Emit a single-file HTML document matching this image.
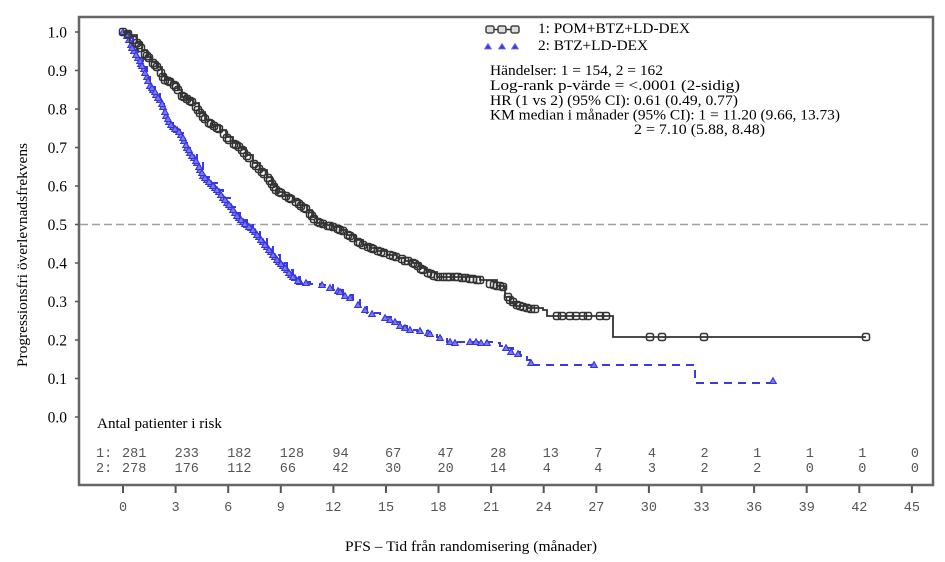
<!DOCTYPE html>
<html>
<head>
<meta charset="utf-8">
<style>
html,body{margin:0;padding:0;background:#fff;}
svg{display:block;}
.serif{font-family:"Liberation Serif","DejaVu Serif",serif;fill:#000;}
.mono{font-family:"Liberation Mono","DejaVu Sans Mono",monospace;fill:#555;font-size:13.5px;}
</style>
</head>
<body>
<svg width="945" height="562" viewBox="0 0 945 562" xmlns="http://www.w3.org/2000/svg">
<defs>
  <marker id="sq" markerWidth="9" markerHeight="9" refX="4.5" refY="4.5" markerUnits="userSpaceOnUse">
    <rect x="1" y="1" width="7" height="7" rx="1.8" fill="none" stroke="#333" stroke-width="1.5"/>
  </marker>
  <marker id="tri" markerWidth="9" markerHeight="9" refX="4.5" refY="4.5" markerUnits="userSpaceOnUse">
    <path d="M4.5,1.2 L7.8,7 L1.2,7 Z" fill="#7a7aee" stroke="#3535e0" stroke-width="1.1"/>
  </marker>
</defs>
<rect width="945" height="562" fill="#fff"/>

<!-- frame -->
<rect x="79" y="17" width="854" height="468" fill="none" stroke="#666" stroke-width="2.5"/>

<!-- reference line at 0.5 -->
<line x1="80" y1="224.5" x2="932" y2="224.5" stroke="#a0a0a0" stroke-width="1.5" stroke-dasharray="8 4"/>

<!-- y ticks -->
<g stroke="#555" stroke-width="1.5">
  <line x1="75" y1="32" x2="79" y2="32"/>
  <line x1="75" y1="70.5" x2="79" y2="70.5"/>
  <line x1="75" y1="109" x2="79" y2="109"/>
  <line x1="75" y1="147.5" x2="79" y2="147.5"/>
  <line x1="75" y1="186" x2="79" y2="186"/>
  <line x1="75" y1="224.5" x2="79" y2="224.5"/>
  <line x1="75" y1="263" x2="79" y2="263"/>
  <line x1="75" y1="301.5" x2="79" y2="301.5"/>
  <line x1="75" y1="340" x2="79" y2="340"/>
  <line x1="75" y1="378.5" x2="79" y2="378.5"/>
  <line x1="75" y1="417" x2="79" y2="417"/>
</g>
<g class="serif" font-size="15.5" text-anchor="end">
  <text x="67" y="37.5">1.0</text>
  <text x="67" y="76">0.9</text>
  <text x="67" y="114.5">0.8</text>
  <text x="67" y="153">0.7</text>
  <text x="67" y="191.5">0.6</text>
  <text x="67" y="230">0.5</text>
  <text x="67" y="268.5">0.4</text>
  <text x="67" y="307">0.3</text>
  <text x="67" y="345.5">0.2</text>
  <text x="67" y="384">0.1</text>
  <text x="67" y="422.5">0.0</text>
</g>

<!-- y label -->
<text class="serif" font-size="15" text-anchor="middle" transform="translate(27,255) rotate(-90)" textLength="224" lengthAdjust="spacingAndGlyphs">Progressionsfri överlevnadsfrekvens</text>

<!-- x ticks -->
<g stroke="#555" stroke-width="2">
  <line x1="123" y1="486" x2="123" y2="493"/>
  <line x1="175.6" y1="486" x2="175.6" y2="493"/>
  <line x1="228.2" y1="486" x2="228.2" y2="493"/>
  <line x1="280.8" y1="486" x2="280.8" y2="493"/>
  <line x1="333.4" y1="486" x2="333.4" y2="493"/>
  <line x1="386" y1="486" x2="386" y2="493"/>
  <line x1="438.5" y1="486" x2="438.5" y2="493"/>
  <line x1="491.1" y1="486" x2="491.1" y2="493"/>
  <line x1="543.7" y1="486" x2="543.7" y2="493"/>
  <line x1="596.3" y1="486" x2="596.3" y2="493"/>
  <line x1="648.9" y1="486" x2="648.9" y2="493"/>
  <line x1="701.5" y1="486" x2="701.5" y2="493"/>
  <line x1="754.1" y1="486" x2="754.1" y2="493"/>
  <line x1="806.7" y1="486" x2="806.7" y2="493"/>
  <line x1="859.3" y1="486" x2="859.3" y2="493"/>
  <line x1="911.9" y1="486" x2="911.9" y2="493"/>
</g>
<g class="mono" text-anchor="middle">
  <text x="123" y="511">0</text>
  <text x="175.6" y="511">3</text>
  <text x="228.2" y="511">6</text>
  <text x="280.8" y="511">9</text>
  <text x="333.4" y="511">12</text>
  <text x="386" y="511">15</text>
  <text x="438.5" y="511">18</text>
  <text x="491.1" y="511">21</text>
  <text x="543.7" y="511">24</text>
  <text x="596.3" y="511">27</text>
  <text x="648.9" y="511">30</text>
  <text x="701.5" y="511">33</text>
  <text x="754.1" y="511">36</text>
  <text x="806.7" y="511">39</text>
  <text x="859.3" y="511">42</text>
  <text x="911.9" y="511">45</text>
</g>

<!-- x label -->
<text class="serif" font-size="15" x="345" y="551" textLength="252" lengthAdjust="spacingAndGlyphs">PFS – Tid från randomisering (månader)</text>

<!-- risk table -->
<text class="serif" font-size="15" x="97" y="428" textLength="125" lengthAdjust="spacingAndGlyphs">Antal patienter i risk</text>
<g class="mono">
  <text x="96" y="457">1:</text>
  <text x="96" y="472">2:</text>
  <text x="122" y="457">281</text><text x="122" y="472">278</text>
  <text x="174.6" y="457">233</text><text x="174.6" y="472">176</text>
  <text x="227.2" y="457">182</text><text x="227.2" y="472">112</text>
  <text x="279.8" y="457">128</text><text x="279.8" y="472">66</text>
  <text x="332.4" y="457">94</text><text x="332.4" y="472">42</text>
  <text x="385" y="457">67</text><text x="385" y="472">30</text>
  <text x="437.5" y="457">47</text><text x="437.5" y="472">20</text>
  <text x="490.1" y="457">28</text><text x="490.1" y="472">14</text>
  <text x="542.7" y="457">13</text><text x="542.7" y="472">4</text>
  <text x="594.3" y="457">7</text><text x="594.3" y="472">4</text>
  <text x="647.9" y="457">4</text><text x="647.9" y="472">3</text>
  <text x="700.5" y="457">2</text><text x="700.5" y="472">2</text>
  <text x="753.1" y="457">1</text><text x="753.1" y="472">2</text>
  <text x="805.7" y="457">1</text><text x="805.7" y="472">0</text>
  <text x="858.3" y="457">1</text><text x="858.3" y="472">0</text>
  <text x="910.9" y="457">0</text><text x="910.9" y="472">0</text>
</g>

<!-- series 2 (blue, dashed) -->
<path d="M123,32 H128 V38 H133 V50 H138 V58 H143 V67 H147 V77 H150 V87 H155 V93 H160 V100 H164 V110 H167 V120 H173 V127 H180 V133 H185 V143 H190 V153 H197 V163 H203 V177 H210 V183 H217 V190 H223 V198 H230 V207 H235 V213 H240 V220 H247 V225 H253 V230 H260 V238 H267 V247 H273 V255 H280 V263 H287 V270 H293 V277 H300 V282 H310 V284 H320 V285 H333 V290 H343 V295 H353 V300 H360 V307 H367 V313 H380 V317 H393 V322 H400 V326 H407 V330 H417 V331 H427 V333 H437 V337 H447 V342 H493 V343 H500 V346 H507 V348 H513 V352 H520 V355 H527 V360 H533 V365 H695 V383 H773" fill="none" stroke="#3a3ae0" stroke-width="2" stroke-dasharray="8 6"/>
<polyline fill="none" stroke="none" marker-start="url(#tri)" marker-mid="url(#tri)" marker-end="url(#tri)" points="123,32 127,36 131,45 134,51 138,58 141,64 144,69 147,77 150,86 153,90 156,95 160,100 163,107 166,116 169,122 173,127 177,130 181,135 184,141 187,148 190,153 194,158 197,163 200,170 203,176 207,180 211,184 215,188 219,192 223,198 227,203 231,207 235,213 239,218 243,222 247,225 251,228 255,232 259,237 263,242 267,247 271,252 275,257 279,262 283,266 287,270 291,275 295,278 300,282 306,283 322,285 330,288 338,291 350,298 365,310 372,314 385,318 395,322 405,328 410,330 420,331 428,333 450,342 455,343 470,342 476,342 481,343 487,343 506,348 511,352 518,354 531,363 594,365 773,381"/>
<polyline fill="none" stroke="none" marker-mid="url(#tri)" points="125,34 129,40 132,48 136,55 140,61 142,66 145,73 148,81 152,88 155,92 158,98 162,104 165,112 168,119 171,125 175,129 179,132 183,138 186,145 189,150 192,156 196,161 199,167 202,173 205,178 209,182 213,186 217,190 221,195 225,200 229,205 233,210 237,216 241,220 245,224 249,227 253,230 257,235 261,240 265,245 269,250 273,255 277,260 281,264 285,268 289,273 293,277 298,281 340,292 345,296 358,305 390,320 400,326 430,334 440,338 500,346"/>

<!-- series 1 (black, solid) -->
<path d="M123,32 H130 V35 H137 V43 H142 V50 H147 V57 H152 V62 H157 V67 H162 V75 H165 V80 H173 V83 H178 V90 H182 V97 H188 V100 H193 V103 H199 V112 H205 V120 H212 V125 H220 V130 H226 V137 H233 V143 H240 V148 H246 V155 H253 V163 H260 V170 H267 V177 H272 V185 H277 V192 H285 V196 H293 V200 H300 V205 H307 V210 H312 V217 H317 V223 H325 V225 H333 V227 H340 V230 H347 V235 H355 V240 H363 V245 H370 V248 H377 V251 H387 V255 H397 V258 H405 V261 H413 V263 H420 V268 H427 V272 H437 V277 H480 V280 H497 V286 H505 V297 H510 V302 H515 V306 H527 V308 H543 V310 H547 V316 H613 V337 H866" fill="none" stroke="#333" stroke-width="1.8"/>
<polyline fill="none" stroke="none" marker-start="url(#sq)" marker-mid="url(#sq)" marker-end="url(#sq)" points="123,32 128,34 133,40 137,43 141,48 145,54 149,58 153,63 157,67 161,73 165,80 170,82 174,85 178,90 182,96 187,99 192,102 196,107 200,113 205,119 209,123 214,126 219,129 224,134 229,140 234,144 239,147 244,153 249,158 254,164 259,169 264,174 268,178 272,184 276,190 281,193 286,196 291,199 296,202 301,206 306,209 310,214 314,219 318,222 323,224 328,226 333,227 338,229 343,231 348,235 353,238 358,242 363,245 368,247 373,249 378,251 384,253 390,255 396,257 402,259 408,261 413,263 418,266 423,270 428,273 434,276 443,277 450,277 458,277 466,278 473,279 480,280 490,284 497,286 503,287 508,297 513,302 520,306 527,308 535,309 557,316 562,316 570,316 576,316 583,316 588,316 600,316 606,316 650,337 662,337 704,337 866,337"/>
<polyline fill="none" stroke="none" marker-mid="url(#sq)" points="131,37 139,45 147,56 155,65 163,77 168,81 176,87 184,97 190,101 198,110 203,117 211,124 217,128 227,138 236,145 242,150 247,156 256,166 262,172 270,181 274,187 279,192 289,198 299,204 304,208 312,216 320,223 330,226 340,230 350,236 360,243 371,248 381,252 393,256 405,261 415,264 421,269 431,274 438,277 447,277 455,277 462,278 470,279 477,280 494,285 500,286 510,300 517,305 523,307 531,309 540,310"/>

<!-- legend -->
<line x1="489" y1="29.5" x2="516" y2="29.5" stroke="#333" stroke-width="1.5"/>
<g fill="#ddd" stroke="#444" stroke-width="1.5">
  <rect x="486" y="26" width="8" height="7" rx="1.8"/>
  <rect x="498" y="26" width="8" height="7" rx="1.8"/>
  <rect x="511" y="26" width="8" height="7" rx="1.8"/>
</g>
<g fill="#3a3ae8" stroke="#6a6af0" stroke-width="0.8">
  <path d="M488,43.5 L491.5,49 L484.5,49 Z"/>
  <path d="M502,43.5 L505.5,49 L498.5,49 Z"/>
  <path d="M515,43.5 L518.5,49 L511.5,49 Z"/>
</g>
<g class="serif" font-size="15">
  <text x="538" y="33" textLength="152" lengthAdjust="spacingAndGlyphs">1: POM+BTZ+LD-DEX</text>
  <text x="538" y="50" textLength="110" lengthAdjust="spacingAndGlyphs">2: BTZ+LD-DEX</text>
  <text x="490" y="75" textLength="173" lengthAdjust="spacingAndGlyphs">Händelser: 1 = 154, 2 = 162</text>
  <text x="490" y="90" textLength="250" lengthAdjust="spacingAndGlyphs">Log-rank p-värde = &lt;.0001 (2-sidig)</text>
  <text x="490" y="105" textLength="248" lengthAdjust="spacingAndGlyphs">HR (1 vs 2) (95% CI):  0.61 (0.49, 0.77)</text>
  <text x="490" y="119.5" textLength="350" lengthAdjust="spacingAndGlyphs">KM median i månader (95% CI): 1 = 11.20 (9.66, 13.73)</text>
  <text x="634" y="134" textLength="131" lengthAdjust="spacingAndGlyphs">2 = 7.10 (5.88, 8.48)</text>
</g>
</svg>
</body>
</html>
